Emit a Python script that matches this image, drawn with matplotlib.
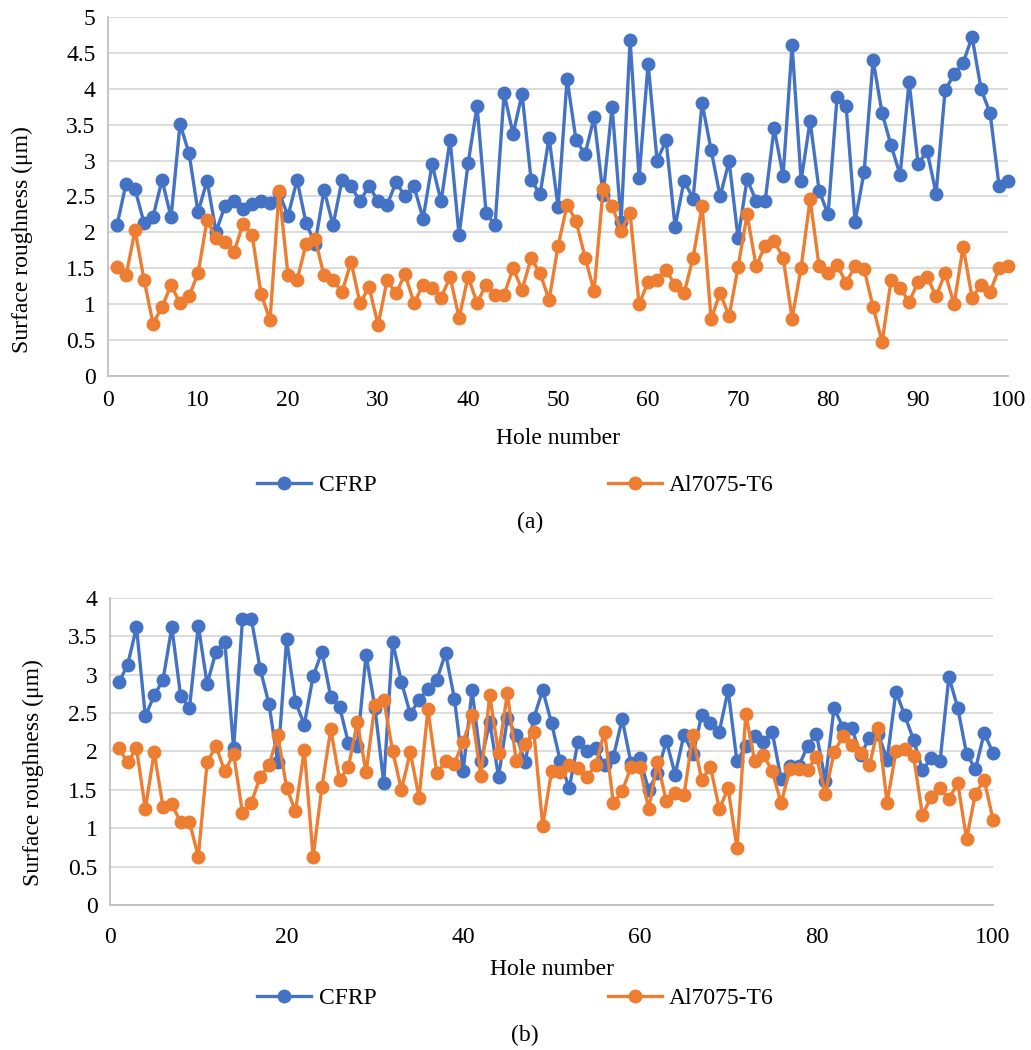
import numpy as np
import matplotlib
matplotlib.use('Agg')
import matplotlib.pyplot as plt

plt.rcParams['font.family'] = ['Liberation Serif', 'DejaVu Serif']

holes = np.arange(1, 101)

# (a) values
cfrp_a = [2.10, 2.68, 2.60, 2.13, 2.22, 2.73, 2.21, 3.51, 3.10, 2.28,
          2.72, 2.01, 2.37, 2.43, 2.33, 2.39, 2.43, 2.41, 2.55, 2.23,
          2.73, 2.13, 1.84, 2.59, 2.10, 2.73, 2.64, 2.43, 2.65, 2.43,
          2.38, 2.70, 2.50, 2.64, 2.19, 2.95, 2.43, 3.29, 1.96, 2.96,
          3.76, 2.27, 2.10, 3.94, 3.37, 3.93, 2.73, 2.53, 3.32, 2.35,
          4.14, 3.28, 3.09, 3.60, 2.52, 3.75, 2.15, 4.68, 2.76, 4.35,
          3.00, 3.28, 2.08, 2.72, 2.47, 3.80, 3.15, 2.50, 2.99, 1.92,
          2.74, 2.44, 2.43, 3.45, 2.79, 4.61, 2.72, 3.55, 2.58, 2.25,
          3.89, 3.76, 2.15, 2.84, 4.40, 3.66, 3.21, 2.80, 4.10, 2.95,
          3.13, 2.54, 3.98, 4.20, 4.36, 4.72, 3.99, 3.66, 2.64, 2.72]
al_a = [1.52, 1.40, 2.03, 1.34, 0.73, 0.96, 1.27, 1.01, 1.11, 1.43,
        2.17, 1.92, 1.86, 1.73, 2.12, 1.97, 1.14, 0.78, 2.58, 1.40,
        1.33, 1.84, 1.91, 1.40, 1.33, 1.17, 1.59, 1.01, 1.24, 0.71,
        1.33, 1.15, 1.42, 1.01, 1.27, 1.23, 1.09, 1.38, 0.81, 1.38,
        1.02, 1.27, 1.13, 1.13, 1.50, 1.20, 1.64, 1.43, 1.06, 1.81,
        2.38, 2.16, 1.65, 1.18, 2.60, 2.37, 2.02, 2.27, 1.00, 1.31,
        1.34, 1.47, 1.27, 1.15, 1.65, 2.37, 0.79, 1.16, 0.83, 1.52,
        2.25, 1.53, 1.81, 1.88, 1.65, 0.80, 1.51, 2.46, 1.53, 1.44,
        1.54, 1.30, 1.53, 1.49, 0.96, 0.47, 1.34, 1.23, 1.03, 1.31,
        1.38, 1.11, 1.43, 1.00, 1.80, 1.09, 1.27, 1.17, 1.50, 1.53]

# (b) values
cfrp_b = [2.90, 3.13, 3.62, 2.46, 2.73, 2.93, 3.62, 2.72, 2.57, 3.64,
          2.88, 3.30, 3.43, 2.04, 3.72, 3.73, 3.08, 2.62, 1.86, 3.46,
          2.65, 2.35, 2.98, 3.30, 2.71, 2.58, 2.11, 2.07, 3.26, 2.57,
          1.59, 3.43, 2.91, 2.49, 2.67, 2.82, 2.93, 3.28, 2.69, 1.75,
          2.80, 1.87, 2.38, 1.67, 2.43, 2.22, 1.86, 2.44, 2.80, 2.37,
          1.87, 1.52, 2.13, 2.00, 2.04, 1.82, 1.93, 2.42, 1.85, 1.91,
          1.50, 1.72, 2.14, 1.70, 2.22, 1.97, 2.47, 2.37, 2.26, 2.80,
          1.87, 2.07, 2.20, 2.13, 2.25, 1.64, 1.81, 1.81, 2.07, 2.23,
          1.62, 2.57, 2.31, 2.31, 1.95, 2.18, 2.23, 1.89, 2.78, 2.47,
          2.15, 1.76, 1.91, 1.88, 2.97, 2.57, 1.97, 1.77, 2.24, 1.98]
al_b = [2.04, 1.86, 2.04, 1.25, 1.99, 1.28, 1.31, 1.08, 1.08, 0.63,
        1.86, 2.07, 1.74, 1.97, 1.20, 1.33, 1.67, 1.82, 2.21, 1.53,
        1.22, 2.02, 0.63, 1.54, 2.29, 1.63, 1.80, 2.38, 1.73, 2.61,
        2.67, 2.01, 1.50, 1.99, 1.40, 2.55, 1.72, 1.87, 1.84, 2.13,
        2.47, 1.68, 2.73, 1.98, 2.76, 1.87, 2.10, 2.25, 1.03, 1.74,
        1.73, 1.83, 1.78, 1.67, 1.82, 2.26, 1.33, 1.48, 1.80, 1.80,
        1.25, 1.86, 1.35, 1.46, 1.43, 2.21, 1.63, 1.80, 1.25, 1.52,
        0.74, 2.49, 1.87, 1.96, 1.74, 1.33, 1.77, 1.77, 1.76, 1.93,
        1.45, 1.99, 2.20, 2.09, 1.98, 1.82, 2.31, 1.33, 2.00, 2.03,
        1.94, 1.17, 1.41, 1.53, 1.38, 1.59, 0.86, 1.45, 1.63, 1.11]

blue = '#4472C4'
orange = '#ED7D31'
fs = 17

fig = plt.figure(figsize=(10.31, 10.50), dpi=100)
ax1 = fig.add_axes([0.1048, 0.6419, 0.873, 0.342])
ax2 = fig.add_axes([0.1067, 0.1381, 0.8565, 0.2924])


def style(ax, ymax, xstep, xpad, xlab_y, ylab_xy):
    ax.set_xlim(0, 100)
    ax.set_ylim(0, ymax)
    ax.set_xticks(np.arange(0, 101, xstep))
    ax.set_yticks(np.arange(0, ymax + 0.01, 0.5))
    ax.set_yticklabels(['%g' % v for v in np.arange(0, ymax + 0.01, 0.5)])
    ax.grid(axis='y', color='#D9D9D9', linewidth=1.3)
    ax.set_axisbelow(True)
    for s in ['top', 'right']:
        ax.spines[s].set_visible(False)
    for s in ['left', 'bottom']:
        ax.spines[s].set_color('#BFBFBF')
        ax.spines[s].set_linewidth(1.3)
    ax.tick_params(length=0, labelsize=fs)
    ax.tick_params(axis='x', pad=xpad)
    ax.tick_params(axis='y', pad=9)
    ax.set_xlabel('Hole number', fontsize=fs, va='center')
    ax.xaxis.set_label_coords(0.5, xlab_y)
    ax.set_ylabel('Surface roughness (μm)', fontsize=fs, va='center')
    ax.yaxis.set_label_coords(*ylab_xy)


for ax, c, a in [(ax1, cfrp_a, al_a), (ax2, cfrp_b, al_b)]:
    ax.plot(holes, c, '-o', color=blue, lw=2.4, ms=9, label='CFRP', clip_on=False)
    ax.plot(holes, a, '-o', color=orange, lw=2.4, ms=9, label='Al7075-T6', clip_on=False)

style(ax1, 5, 10, 10, -0.1727, (-0.0956, 0.379))
style(ax2, 4, 20, 16, -0.2117, (-0.087, 0.43))

ax1.legend(loc='center', bbox_to_anchor=(0.50, 0.538), bbox_transform=fig.transFigure,
           ncol=2, frameon=False, fontsize=fs, handlelength=2.3, columnspacing=9.8,
           handletextpad=0.3)
ax2.legend(loc='center', bbox_to_anchor=(0.50, 0.049), bbox_transform=fig.transFigure,
           ncol=2, frameon=False, fontsize=fs, handlelength=2.3, columnspacing=9.8,
           handletextpad=0.3)

fig.text(0.514, 0.502, '(a)', ha='center', va='center', fontsize=fs)
fig.text(0.509, 0.0143, '(b)', ha='center', va='center', fontsize=fs)

fig.savefig('out.png', dpi=100)
